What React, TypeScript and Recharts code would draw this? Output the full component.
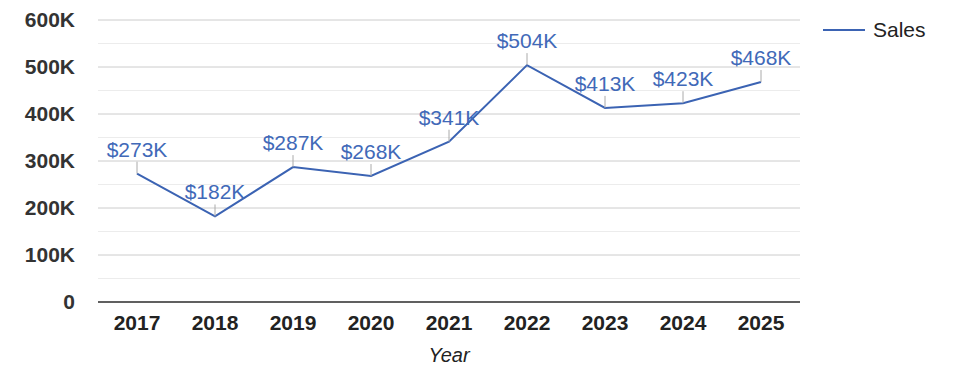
import React from "react";
import {
  LineChart,
  Line,
  XAxis,
  YAxis,
  CartesianGrid,
  ReferenceLine,
} from "recharts";

const years = ["2017", "2018", "2019", "2020", "2021", "2022", "2023", "2024", "2025"];
const sales = [273000, 182000, 287000, 268000, 341000, 504000, 413000, 423000, 468000];
const yTicks = [0, 100000, 200000, 300000, 400000, 500000, 600000];
const minorTicks = [50000, 150000, 250000, 350000, 450000, 550000];

const data = years.map((year, i) => ({ year, sales: sales[i] }));

const FONT = "'Liberation Sans', Arial, sans-serif";
const BLUE = "#3b63b3";

const fmtAxis = (v: number) => (v === 0 ? "0" : `${v / 1000}K`);

interface LabelProps {
  x: number;
  y: number;
  value: number;
}
const renderPointLabel = ({ x, y, value }: LabelProps) => {
  return (
    <g>
      <line x1={x} x2={x} y1={y - 12} y2={y} stroke="#aaa" strokeWidth={1} />
      <text
        x={x}
        y={y - 17}
        fill="#4169b8"
        textAnchor="middle"
        fontSize={21}
        fontFamily={FONT}
      >
        {`$${Math.round(value / 1000)}K`}
      </text>
    </g>
  );
};

const App: React.FC = () => {
  return (
    <div style={{ position: "absolute", left: 0, top: 0, width: 975, height: 378 }}>
      <LineChart
        width={975}
        height={378}
        data={data}
        margin={{ top: 20, right: 175, bottom: 14, left: 8 }}
      >
        <CartesianGrid vertical={false} stroke="#ccc" />
        {minorTicks.map((t) => (
          <ReferenceLine key={t} y={t} stroke="#ececec" />
        ))}
        <XAxis
          dataKey="year"
          height={62}
          padding={{ left: 39, right: 39 }}
          tickLine={false}
          tickMargin={7}
          axisLine={{ stroke: "#333", strokeWidth: 1.5 }}
          tick={{ fontSize: 21, fontWeight: "bold", fill: "#222", fontFamily: FONT }}
          label={{
            value: "Year",
            position: "insideBottom",
            offset: 2,
            style: { fontSize: 20, fontStyle: "italic", fill: "#222", fontFamily: FONT },
          }}
        />
        <YAxis
          width={90}
          domain={[0, 600000]}
          ticks={yTicks}
          tickFormatter={fmtAxis}
          axisLine={false}
          tickLine={false}
          tickMargin={17}
          tick={{ fontSize: 21, fontWeight: "bold", fill: "#333", fontFamily: FONT }}
        />
        <Line
          type="linear"
          dataKey="sales"
          name="Sales"
          stroke={BLUE}
          strokeWidth={2}
          dot={false}
          activeDot={false}
          label={renderPointLabel}
          isAnimationActive={false}
        />
      </LineChart>
      <svg
        width={130}
        height={30}
        style={{ position: "absolute", left: 823, top: 18 }}
      >
        <line x1={0} x2={42} y1={12} y2={12} stroke={BLUE} strokeWidth={2} />
        <text x={50} y={19} fontSize={21} fontFamily={FONT} fill="#222">
          Sales
        </text>
      </svg>
    </div>
  );
};

export default App;
